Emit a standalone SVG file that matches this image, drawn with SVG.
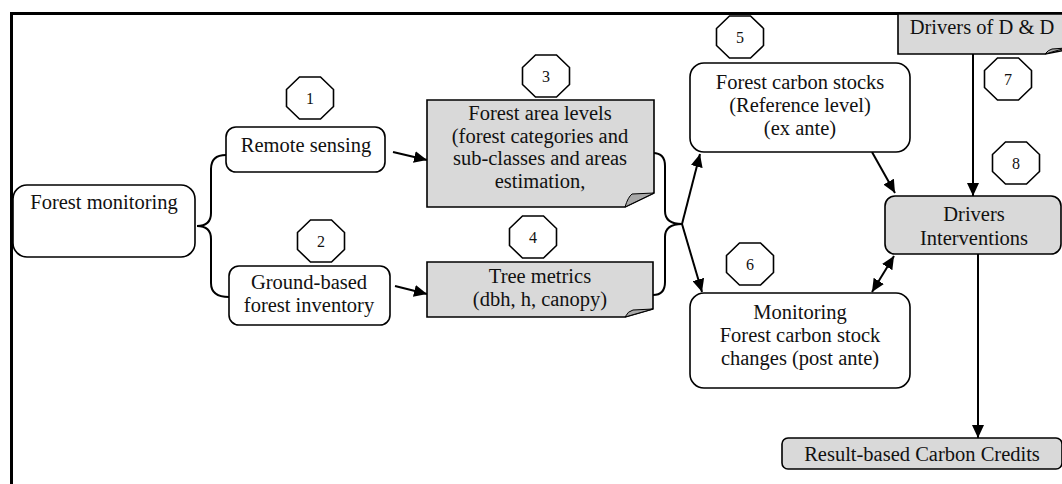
<svg xmlns="http://www.w3.org/2000/svg" width="1062" height="484" viewBox="0 0 1062 484" font-family="'Liberation Serif', 'DejaVu Serif', serif">
<style>
text{font-family:'Liberation Serif','DejaVu Serif',serif;font-size:20.5px;fill:#111;text-anchor:middle}
.num{font-size:16px}
.box{fill:#fff;stroke:#000;stroke-width:1.6}
.grey{fill:#d9d9d9;stroke:#000;stroke-width:1.6}
.flap{fill:#a8a8a8;stroke:#000;stroke-width:1}
.oct{fill:#fff;stroke:#000;stroke-width:1.6}
.con{fill:none;stroke:#000;stroke-width:2}
.arr{fill:none;stroke:#000;stroke-width:2;marker-end:url(#ah)}
</style>
<defs>
<marker id="ah" markerWidth="14" markerHeight="12" refX="13" refY="6" orient="auto-start-reverse" markerUnits="userSpaceOnUse">
<path d="M0,0 L13,6 L0,12 Z" fill="#000"/>
</marker>
<polygon id="octShape" points="-10.5,-21 10.5,-21 23.5,-8.5 23.5,8.5 10.5,21 -10.5,21 -23.5,8.5 -23.5,-8.5"/>
</defs>
<rect width="1062" height="484" fill="#fff"/>
<g id="frame">
<path d="M11.5,484 V13.5 H1062" fill="none" stroke="#000" stroke-width="3"/>
</g>
<g id="connectors">
<path class="con" d="M226,155 Q211,155 211,169 V213 Q211,226 197,226 Q211,226 211,239 V283 Q211,297 229,297"/>
<path class="con" d="M653,153 Q665,153 665,166 V211 Q665,224 682,224 Q665,224 665,237 V282 Q665,295 653,295"/>
<line class="arr" x1="393" y1="152" x2="427" y2="160"/>
<line class="arr" x1="395" y1="286" x2="427" y2="294"/>
<line class="arr" x1="682" y1="224" x2="700" y2="154"/>
<line class="arr" x1="682" y1="224" x2="702" y2="292"/>
<line class="arr" x1="872" y1="152" x2="895" y2="193"/>
<line class="arr" x1="973" y1="54" x2="973" y2="196"/>
<line class="arr" x1="872" y1="292" x2="894" y2="256" style="marker-start:url(#ah)"/>
<line class="arr" x1="978" y1="254" x2="978" y2="438"/>
</g>
<g id="forest-monitoring">
<rect class="box" x="13" y="185" width="182" height="72" rx="14"/>
<text x="104" y="209">Forest monitoring</text>
</g>
<g id="remote-sensing">
<rect class="box" x="226" y="127" width="159" height="45" rx="10"/>
<text x="306" y="152">Remote sensing</text>
</g>
<g id="ground-based">
<rect class="box" x="229" y="266" width="161" height="59" rx="10"/>
<text x="309" y="289">Ground-based</text>
<text x="309" y="312">forest inventory</text>
</g>
<g id="forest-area-levels">
<path class="grey" d="M427,100 H654 V193 L625,207 H427 Z"/>
<path class="flap" d="M625,207 Q628,197 632,194 L654,193 Z"/>
<text x="540" y="120">Forest area levels</text>
<text x="540" y="143">(forest categories and</text>
<text x="540" y="165">sub-classes and areas</text>
<text x="540" y="188">estimation,</text>
</g>
<g id="tree-metrics">
<path class="grey" d="M427,262 H653 V309 L625,317 H427 Z"/>
<path class="flap" d="M625,317 Q628,311 633,310 L653,309 Z"/>
<text x="540" y="283">Tree metrics</text>
<text x="540" y="306">(dbh, h, canopy)</text>
</g>
<g id="forest-carbon-stocks">
<rect class="box" x="690" y="63" width="220" height="89" rx="14"/>
<text x="800" y="89">Forest carbon stocks</text>
<text x="800" y="112">(Reference level)</text>
<text x="800" y="135">(ex ante)</text>
</g>
<g id="monitoring">
<rect class="box" x="690" y="293" width="220" height="95" rx="14"/>
<text x="800" y="319">Monitoring</text>
<text x="800" y="342">Forest carbon stock</text>
<text x="800" y="365">changes (post ante)</text>
</g>
<g id="drivers-dd">
<path class="grey" d="M898,14 H1066 V50 L1045,54 H898 Z"/>
<path class="flap" d="M1045,54 Q1048,50 1052,49 L1066,48 Z"/>
<text x="982" y="34">Drivers of D &amp; D</text>
</g>
<g id="drivers-interventions">
<rect class="grey" x="885" y="196" width="176" height="58" rx="10"/>
<text x="974" y="221">Drivers</text>
<text x="974" y="245">Interventions</text>
</g>
<g id="result-based">
<rect class="grey" x="782" y="438" width="280" height="31" rx="6"/>
<text x="922" y="461">Result-based Carbon Credits</text>
</g>
<g id="label-1"><use href="#octShape" class="oct" x="310" y="98"/><text class="num" x="310" y="104">1</text></g>
<g id="label-2"><use href="#octShape" class="oct" x="321" y="241"/><text class="num" x="321" y="247">2</text></g>
<g id="label-3"><use href="#octShape" class="oct" x="546" y="76"/><text class="num" x="546" y="82">3</text></g>
<g id="label-4"><use href="#octShape" class="oct" x="533" y="237"/><text class="num" x="533" y="243">4</text></g>
<g id="label-5"><use href="#octShape" class="oct" x="740" y="37"/><text class="num" x="740" y="43">5</text></g>
<g id="label-6"><use href="#octShape" class="oct" x="750" y="264"/><text class="num" x="750" y="270">6</text></g>
<g id="label-7"><use href="#octShape" class="oct" x="1008" y="79"/><text class="num" x="1008" y="85">7</text></g>
<g id="label-8"><use href="#octShape" class="oct" x="1016" y="163"/><text class="num" x="1016" y="169">8</text></g>
</svg>
